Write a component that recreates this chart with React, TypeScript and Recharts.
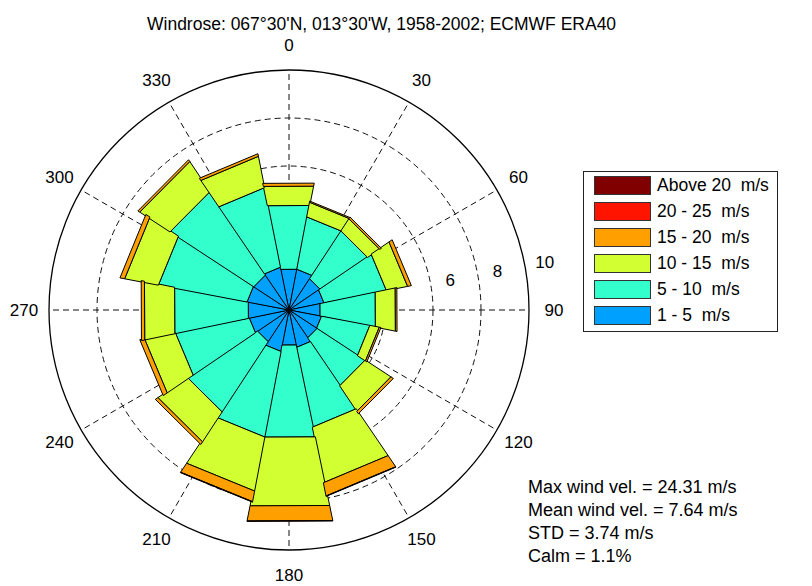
import {
  RadialBarChart,
  RadialBar,
  PolarAngleAxis,
  PolarRadiusAxis,
  PolarGrid,
  Legend,
} from "recharts";

// 16 compass sectors, clockwise from north
const directions = [
  "N", "NNE", "NE", "ENE", "E", "ESE", "SE", "SSE",
  "S", "SSW", "SW", "WSW", "W", "WNW", "NW", "NNW",
];

// frequency (%) per speed class, read from the rose
const speed1to5 = [1.73, 1.73, 1.56, 1.49, 1.32, 1.38, 1.4, 1.59, 1.49, 1.76, 1.58, 1.69, 1.73, 1.78, 1.76, 1.82];
const speed5to10 = [2.71, 2.22, 2.38, 2.65, 2.35, 2.05, 2.4, 3.39, 3.91, 3.63, 3.5, 3.14, 3.13, 3.76, 4.17, 3.38];
const speed10to15 = [0.82, 0.62, 0.61, 0.9, 0.85, 0.4, 1.28, 2.36, 2.92, 2.29, 1.49, 1.31, 1.28, 1.43, 1.51, 1.33];
const speed15to20 = [0.13, 0.05, 0.08, 0.16, 0.07, 0.07, 0.12, 0.56, 0.64, 0.45, 0.13, 0.2, 0.14, 0.2, 0.09, 0.11];
const speed20to25 = [0, 0, 0, 0, 0, 0, 0, 0.02, 0.02, 0.02, 0, 0, 0, 0, 0, 0];
const speedAbove20 = [0, 0, 0, 0, 0, 0, 0, 0, 0, 0, 0, 0, 0, 0, 0, 0];

const classLabels = ["1 - 5  m/s", "5 - 10  m/s", "10 - 15  m/s", "15 - 20  m/s", "20 - 25  m/s", "Above 20  m/s"];
const classColors = ["#00a0ff", "#33ffcc", "#d2ff32", "#ffa000", "#ff1400", "#800000"];
const classKeys = ["s1", "s2", "s3", "s4", "s5", "s6"];
const classValues = [speed1to5, speed5to10, speed10to15, speed15to20, speed20to25, speedAbove20];

const angleTicks = [0, 30, 60, 90, 120, 150, 180, 210, 240, 270, 300, 330];
const gridRings = [2, 4, 6, 8];
const ringLabels = [6, 8, 10];
const maxRadius = 10;

const title = "Windrose: 067°30'N, 013°30'W, 1958-2002; ECMWF ERA40";
const stats = [
  "Max wind vel. = 24.31 m/s",
  "Mean wind vel. = 7.64 m/s",
  "STD = 3.74 m/s",
  "Calm = 1.1%",
];

const data = directions.map((dir, i) => {
  const row: Record<string, number | string> = { dir };
  classKeys.forEach((k, j) => (row[k] = classValues[j][i]));
  return row;
});

const W = 812;
const H = 586;
const CX = 289;
const CY = 310;
const R = 240;
const RAD = Math.PI / 180;
const FONT = "'Liberation Sans', Arial, Helvetica, sans-serif";

// compass degrees -> screen point
const compass = (deg: number, r: number) => ({
  x: CX + r * Math.sin(deg * RAD),
  y: CY - r * Math.cos(deg * RAD),
});

// flat-edged wedge like the matlab windrose patches
function Wedge(props: any) {
  const { cx, cy, innerRadius, outerRadius, startAngle, endAngle, fill } = props;
  if (outerRadius - innerRadius <= 0) return null;
  const p = (r: number, a: number) =>
    `${cx + r * Math.cos(-a * RAD)},${cy + r * Math.sin(-a * RAD)}`;
  const pts = [
    p(innerRadius, startAngle),
    p(outerRadius, startAngle),
    p(outerRadius, endAngle),
    p(innerRadius, endAngle),
  ].join(" ");
  return <polygon points={pts} fill={fill} stroke="#000" strokeWidth={1} strokeLinejoin="miter" />;
}

function LegendBox() {
  const order = [5, 4, 3, 2, 1, 0];
  return (
    <div
      style={{
        width: 193,
        height: 159,
        border: "1px solid #222",
        background: "#fff",
        fontFamily: FONT,
        fontSize: 17.5,
        color: "#000",
        boxSizing: "content-box",
      }}
    >
      {order.map((j, row) => (
        <div
          key={j}
          style={{ position: "absolute", left: 11, top: 5 + row * 26, height: 19, display: "flex", alignItems: "center" }}
        >
          <div style={{ width: 55, height: 17, background: classColors[j], border: "1px solid #333" }} />
          <span style={{ marginLeft: 6, whiteSpace: "pre" }}>{classLabels[j]}</span>
        </div>
      ))}
    </div>
  );
}

export default function App() {
  const step = 360 / directions.length;
  // recharts puts the first band one step further on, so start half a step before north
  const start = 90 - step / 2;
  return (
    <div style={{ position: "absolute", left: 0, top: 0, width: W, height: H, background: "#fff" }}>
      <RadialBarChart
        width={W}
        height={H}
        data={data}
        cx={CX}
        cy={CY}
        innerRadius={0}
        outerRadius={R}
        startAngle={start}
        endAngle={start - 360}
        layout="centric"
        barCategoryGap={0}
        barGap={0}
        margin={{ top: 0, right: 0, bottom: 0, left: 0 }}
      >
        <PolarGrid
          gridType="circle"
          polarRadius={gridRings.map((v) => (R * v) / maxRadius)}
          polarAngles={angleTicks.map((a) => 90 - a)}
          stroke="#111"
          strokeDasharray="6 4"
          fill="none"
        />
        <PolarGrid gridType="circle" polarRadius={[R]} polarAngles={[]} radialLines={false} stroke="#000" strokeWidth={1.3} fill="none" />
        <PolarAngleAxis type="category" dataKey="dir" tick={false} axisLine={false} tickLine={false} />
        <PolarRadiusAxis type="number" domain={[0, maxRadius]} tick={false} axisLine={false} tickLine={false} />
        {classKeys.map((k, j) => (
          <RadialBar
            key={k}
            dataKey={k}
            stackId="rose"
            fill={classColors[j]}
            shape={Wedge}
            isAnimationActive={false}
            legendType="none"
          />
        ))}
        <Legend
          content={() => <LegendBox />}
          wrapperStyle={{ left: 583, top: 171, width: 195, height: 161 }}
        />
      </RadialBarChart>
      <svg
        width={W}
        height={H}
        style={{ position: "absolute", left: 0, top: 0, pointerEvents: "none", fontFamily: FONT }}
      >
        <text x={147} y={30} fontSize={17.5} fill="#000">
          {title}
        </text>
        {angleTicks.map((a) => {
          const pt = compass(a, 265);
          return (
            <text key={a} x={pt.x} y={pt.y} fontSize={17} textAnchor="middle" dominantBaseline="central" fill="#000">
              {a}
            </text>
          );
        })}
        {ringLabels.map((v) => {
          const pt = compass(79.5, (R * v) / maxRadius + 20);
          return (
            <text key={v} x={pt.x} y={pt.y} fontSize={17} textAnchor="middle" dominantBaseline="central" fill="#000">
              {v}
            </text>
          );
        })}
        {stats.map((s, i) => (
          <text key={s} x={528} y={493 + i * 23} fontSize={18} fill="#000">
            {s}
          </text>
        ))}
      </svg>
    </div>
  );
}
